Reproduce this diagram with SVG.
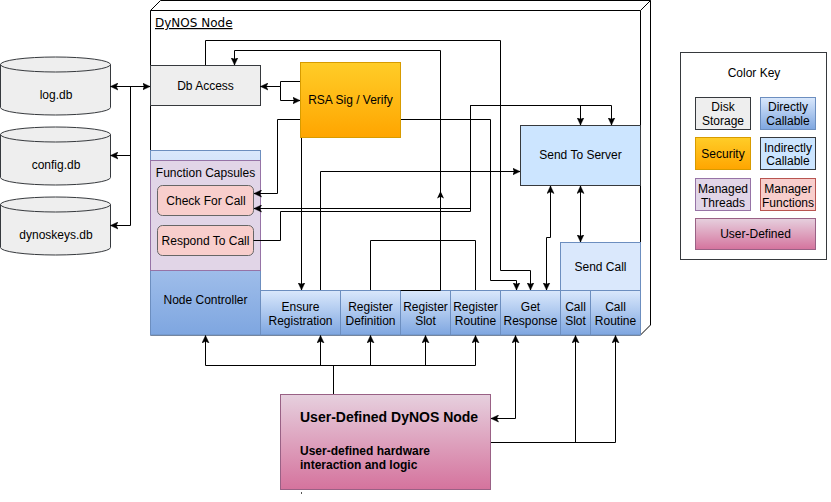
<svg xmlns="http://www.w3.org/2000/svg" width="831" height="502" viewBox="0 0 831 502">
<style>
.t{font-family:"Liberation Sans",Arial,Helvetica,sans-serif;font-size:12px;text-anchor:middle;fill:#000}
.tl{font-family:"Liberation Sans",Arial,Helvetica,sans-serif;font-weight:bold;fill:#000}
.gray{fill:#eeeeee;stroke:#36393d;stroke-width:1}
.blue{fill:url(#gBlue);stroke:#6c8ebf;stroke-width:1}
.lblue{fill:#cce5ff;stroke:#36393d;stroke-width:1}
.sblue{fill:#dae8fc;stroke:#6c8ebf;stroke-width:1}
.orange{fill:url(#gOrange);stroke:#d79b00;stroke-width:1}
.purple{fill:#e1d5e7;stroke:#9673a6;stroke-width:1}
.red{fill:#f8cecc;stroke:#b85450;stroke-width:1}
.pink{fill:url(#gPink);stroke:#996185;stroke-width:1}
.c{fill:none;stroke:#000;stroke-width:1}
.e{marker-end:url(#arr)}
.b{marker-start:url(#arr);marker-end:url(#arr)}
</style>
<defs>
<linearGradient id="gBlue" x1="0" y1="0" x2="0" y2="1"><stop offset="0" stop-color="#dae8fc"/><stop offset="1" stop-color="#7ea6e0"/></linearGradient>
<linearGradient id="gOrange" x1="0" y1="0" x2="0" y2="1"><stop offset="0" stop-color="#ffcd28"/><stop offset="1" stop-color="#ffa500"/></linearGradient>
<linearGradient id="gPink" x1="0" y1="0" x2="0" y2="1"><stop offset="0" stop-color="#e6d0de"/><stop offset="1" stop-color="#d5739d"/></linearGradient>
<marker id="arr" viewBox="0 0 8 8" refX="7.5" refY="4" markerWidth="8" markerHeight="8" markerUnits="userSpaceOnUse" orient="auto-start-reverse">
<path d="M0,0.5 L7.5,4 L0,7.5 L1.8,4 Z" fill="#000" stroke="#000" stroke-width="0.5"/>
</marker>
</defs>
<rect width="831" height="502" fill="#fff"/>

<g id="dynos-node">
<path d="M150.5,10.5 L160.5,0.5 L650.5,0.5 L650.5,325 L640.5,335 L150.5,335 Z" fill="#fff" stroke="#000"/>
<path d="M150.5,10.5 L640.5,10.5 L650.5,0.5 M640.5,10.5 L640.5,335" fill="none" stroke="#000"/>
<text x="155" y="27" style="font-family:'DejaVu Sans',Verdana,sans-serif;font-size:12px;text-decoration:underline" fill="#000">DyNOS Node</text>
</g>

<g id="log-db">
<path class="gray" d="M0.5,64.5 A55,7.5 0 0 1 110.5,64.5 L110.5,107.5 A55,7.5 0 0 1 0.5,107.5 Z"/>
<path d="M0.5,64.5 A55,7.5 0 0 0 110.5,64.5" fill="none" stroke="#36393d"/>
<text class="t" x="56" y="99">log.db</text>
</g>
<g id="config-db">
<path class="gray" d="M0.5,134.5 A55,7.5 0 0 1 110.5,134.5 L110.5,177.5 A55,7.5 0 0 1 0.5,177.5 Z"/>
<path d="M0.5,134.5 A55,7.5 0 0 0 110.5,134.5" fill="none" stroke="#36393d"/>
<text class="t" x="56" y="169">config.db</text>
</g>
<g id="dynoskeys-db">
<path class="gray" d="M0.5,204.5 A55,7.5 0 0 1 110.5,204.5 L110.5,247.5 A55,7.5 0 0 1 0.5,247.5 Z"/>
<path d="M0.5,204.5 A55,7.5 0 0 0 110.5,204.5" fill="none" stroke="#36393d"/>
<text class="t" x="56" y="239">dynoskeys.db</text>
</g>

<g id="db-access">
<rect class="gray" x="150.5" y="65.5" width="110" height="40"/>
<text class="t" x="205.5" y="90">Db Access</text>
</g>
<g id="rsa">
<rect class="orange" x="300.5" y="62.5" width="100" height="75"/>
<text class="t" x="350.5" y="104">RSA Sig / Verify</text>
</g>
<g id="send-to-server">
<rect class="lblue" x="520.5" y="125.5" width="120" height="60"/>
<text class="t" x="580.5" y="159">Send To Server</text>
</g>
<g id="send-call">
<rect class="sblue" x="560.5" y="242.5" width="80" height="48"/>
<text class="t" x="600.5" y="271">Send Call</text>
</g>
<g id="node-controller">
<rect class="blue" x="150.5" y="150.5" width="110" height="184.5"/>
<text class="t" x="205.5" y="304">Node Controller</text>
</g>
<g id="function-capsules">
<rect class="purple" x="150.5" y="160.5" width="110" height="110"/>
<text class="t" x="205.5" y="177">Function Capsules</text>
</g>
<g id="check-for-call">
<rect x="157.5" y="185.5" width="96" height="30" rx="5" fill="#f8cecc" stroke="#666"/>
<text class="t" x="206" y="204.5">Check For Call</text>
</g>
<g id="respond-to-call">
<rect x="157.5" y="225.5" width="96" height="30" rx="5" fill="#f8cecc" stroke="#666"/>
<text class="t" x="205.5" y="244.5">Respond To Call</text>
</g>
<g id="ensure-registration">
<rect class="blue" x="260.5" y="290.5" width="80" height="44.5"/>
<text class="t" x="300.5" y="311">Ensure</text><text class="t" x="300.5" y="325">Registration</text>
</g>
<g id="register-definition">
<rect class="blue" x="340.5" y="290.5" width="60" height="44.5"/>
<text class="t" x="370.5" y="311">Register</text><text class="t" x="370.5" y="325">Definition</text>
</g>
<g id="register-slot">
<rect class="blue" x="400.5" y="290.5" width="50" height="44.5"/>
<text class="t" x="425.5" y="311">Register</text><text class="t" x="425.5" y="325">Slot</text>
</g>
<g id="register-routine">
<rect class="blue" x="450.5" y="290.5" width="50" height="44.5"/>
<text class="t" x="475.5" y="311">Register</text><text class="t" x="475.5" y="325">Routine</text>
</g>
<g id="get-response">
<rect class="blue" x="500.5" y="290.5" width="60" height="44.5"/>
<text class="t" x="530.5" y="311">Get</text><text class="t" x="530.5" y="325">Response</text>
</g>
<g id="call-slot">
<rect class="blue" x="560.5" y="290.5" width="30" height="44.5"/>
<text class="t" x="575.5" y="311">Call</text><text class="t" x="575.5" y="325">Slot</text>
</g>
<g id="call-routine">
<rect class="blue" x="590.5" y="290.5" width="50" height="44.5"/>
<text class="t" x="615.5" y="311">Call</text><text class="t" x="615.5" y="325">Routine</text>
</g>

<g id="user-defined-node">
<rect class="pink" x="280.5" y="394.5" width="210" height="95"/>
<text class="tl" x="300" y="422" font-size="14">User-Defined DyNOS Node</text>
<text class="tl" x="300" y="455" font-size="12">User-defined hardware</text>
<text class="tl" x="300" y="469" font-size="12">interaction and logic</text>
<rect x="301" y="492" width="1" height="2" fill="#555"/>
</g>

<g id="color-key">
<rect x="680.5" y="52.5" width="146" height="207" fill="#fff" stroke="#36393d"/>
<text class="t" x="754" y="77">Color Key</text>
<rect class="gray" x="695.5" y="97.5" width="55" height="32"/>
<text class="t" x="723" y="111">Disk</text><text class="t" x="723" y="125">Storage</text>
<rect class="blue" x="760.5" y="97.5" width="55" height="32"/>
<text class="t" x="788" y="111">Directly</text><text class="t" x="788" y="125">Callable</text>
<rect class="orange" x="695.5" y="137.5" width="55" height="32"/>
<text class="t" x="723" y="158">Security</text>
<rect class="lblue" x="760.5" y="137.5" width="55" height="32"/>
<text class="t" x="788" y="151.5">Indirectly</text><text class="t" x="788" y="165">Callable</text>
<rect class="purple" x="695.5" y="178.5" width="55" height="32"/>
<text class="t" x="723" y="193">Managed</text><text class="t" x="723" y="207">Threads</text>
<rect class="red" x="760.5" y="178.5" width="55" height="32"/>
<text class="t" x="788" y="193">Manager</text><text class="t" x="788" y="207">Functions</text>
<rect class="pink" x="695.5" y="218.5" width="120" height="31"/>
<text class="t" x="755.5" y="238">User-Defined</text>
</g>

<g id="connectors">
<path class="c b" d="M110.5,86.5 L150,86.5"/>
<path class="c" d="M130.5,86.5 V225.5"/>
<path class="c e" d="M130.5,155.5 H110.5"/>
<path class="c e" d="M130.5,225.5 H110.5"/>
<path class="c e" d="M300,81.5 H280.5 V86.5 H260.5"/>
<path class="c e" d="M260.5,86.5 H280.5 V100.5 H300"/>
<path class="c e" d="M205.5,65 V40.5 H500.5 V270.5 H530.5 V290"/>
<path class="c e" d="M400.5,290.5 H440.5 V50.5 H234.5 V65"/>
<polygon points="440.5,191 444,198.5 440.5,196.8 437,198.5" fill="#000"/>
<path class="c e" d="M300,119.5 H277.5 V193.5 H254"/>
<path class="c e" d="M401,119.5 H490.5 V280.5 H516.5 V290"/>
<path class="c e" d="M301.5,138 V290"/>
<path class="c e" d="M320.5,290 V171.5 H520"/>
<path class="c b" d="M580.5,125 V105.5 H470.5 V208.5 H254"/>
<path class="c e" d="M253.5,240.5 H280.5 V211.5 H470.5 V105.5 H611.5 V125"/>
<path class="c" d="M370.5,290 V240.5 H475.5 V290"/>
<path class="c b" d="M546.5,290 V237.5 H550.5 V186"/>
<path class="c b" d="M580.5,186 V242"/>
<path class="c" d="M333.5,394 V365.5 M205.5,365.5 H475.5"/>
<path class="c e" d="M205.5,365.5 V335.5"/>
<path class="c e" d="M320.5,365.5 V335.5"/>
<path class="c e" d="M370.5,365.5 V335.5"/>
<path class="c e" d="M425.5,365.5 V335.5"/>
<path class="c e" d="M475.5,365.5 V335.5"/>
<path class="c b" d="M515.5,335.5 V418.5 H491"/>
<path class="c e" d="M491,442.5 H615.5 V335.5"/>
<path class="c e" d="M575.5,442.5 V335.5"/>
</g>
</svg>
